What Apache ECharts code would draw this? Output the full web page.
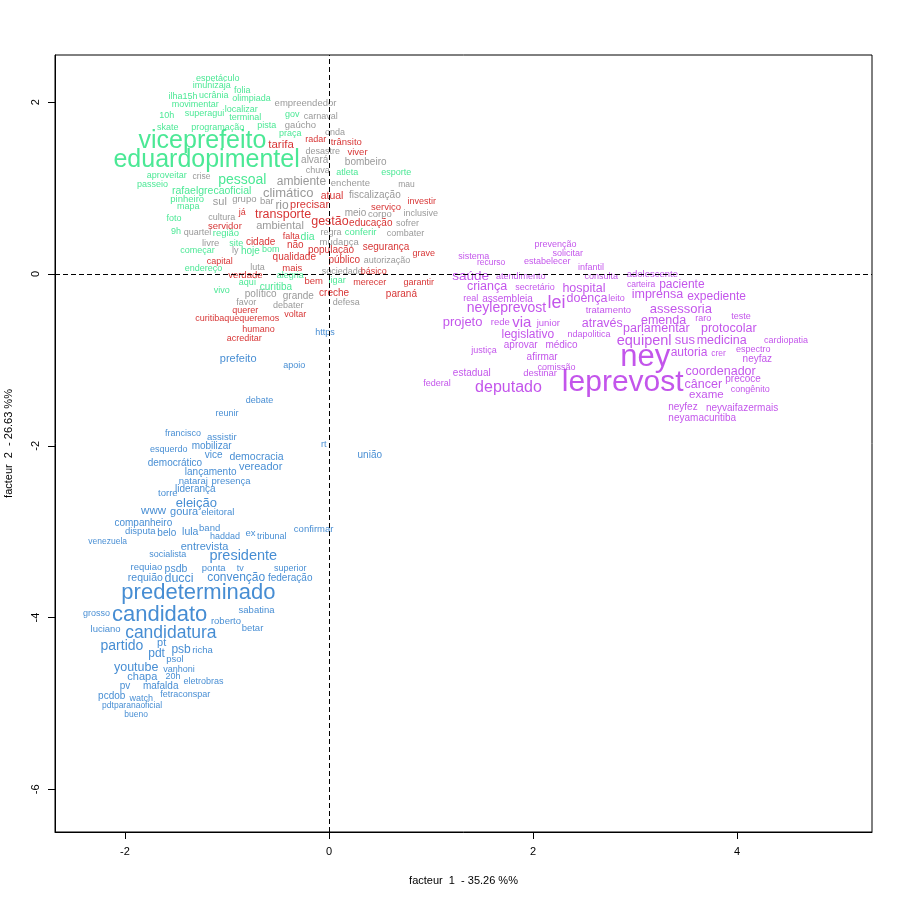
<!DOCTYPE html>
<html>
<head>
<meta charset="utf-8">
<script src="https://cdn.jsdelivr.net/npm/echarts@6/dist/echarts.min.js"></script>
<style>html,body{margin:0;padding:0;background:#fff}#c{width:900px;height:900px}</style>
</head>
<body>
<div id="c"></div>
<script>
// [word, facteur1, facteur2, cex]
const greenWords = [
 ["espetáculo",-1.09,2.28,0.9],["imunizaja",-1.15,2.19,0.9],["folia",-0.85,2.13,0.9],["ilha15h",-1.43,2.06,0.9],
 ["ucrânia",-1.13,2.08,0.9],["olimpiada",-0.76,2.04,0.9],["movimentar",-1.31,1.97,0.9],["localizar",-0.86,1.92,0.9],
 ["10h",-1.59,1.84,0.9],["superagui",-1.22,1.87,0.9],["terminal",-0.82,1.82,0.9],["skate",-1.58,1.71,0.9],
 ["programação",-1.09,1.71,0.9],["pista",-0.61,1.73,0.9],["gov",-0.36,1.86,0.9],["praça",-0.38,1.63,0.9],
 ["viceprefeito",-1.24,1.55,2.5],["eduardopimentel",-1.20,1.33,2.5],["atleta",0.18,1.18,0.9],["esporte",0.66,1.18,0.9],
 ["aproveitar",-1.59,1.15,0.9],["pessoal",-0.85,1.09,1.4],["passeio",-1.73,1.04,0.9],["rafaelgrecaoficial",-1.15,0.97,1.05],
 ["pinheiro",-1.39,0.87,0.95],["mapa",-1.38,0.78,0.9],["foto",-1.52,0.64,0.9],["9h",-1.50,0.50,0.9],
 ["região",-1.01,0.47,0.95],["site",-0.91,0.36,0.9],["dia",-0.21,0.43,1.05],["conferir",0.31,0.48,0.95],
 ["começar",-1.29,0.27,0.9],["hoje",-0.77,0.26,1.0],["bom",-0.57,0.28,0.9],["endereço",-1.23,0.06,0.9],
 ["alegria",-0.38,-0.02,0.9],["aqui",-0.80,-0.10,0.9],["curitiba",-0.52,-0.15,1.0],["ligar",0.08,-0.08,0.9],
 ["vivo",-1.05,-0.19,0.9]
];
const greyWords = [
 ["empreendedor",-0.23,1.99,0.95],["carnaval",-0.08,1.83,0.9],["gaúcho",-0.28,1.73,0.95],["onda",0.06,1.65,0.9],
 ["desastre",-0.06,1.42,0.9],["alvará",-0.14,1.32,1.0],["bombeiro",0.36,1.30,1.0],["chuva",-0.11,1.20,0.9],
 ["ambiente",-0.27,1.08,1.2],["enchente",0.21,1.05,0.95],["mau",0.76,1.04,0.85],["climático",-0.40,0.94,1.3],
 ["fiscalização",0.45,0.92,1.0],["crise",-1.25,1.13,0.85],["grupo",-0.83,0.87,0.95],["sul",-1.07,0.84,1.1],
 ["bar",-0.61,0.84,0.95],["rio",-0.46,0.80,1.2],["meio",0.26,0.71,1.0],["corpo",0.50,0.69,0.95],
 ["inclusive",0.90,0.70,0.9],["cultura",-1.05,0.66,0.9],["sofrer",0.77,0.59,0.9],["ambiental",-0.48,0.56,1.1],
 ["quartel",-1.29,0.48,0.9],["regra",0.02,0.48,0.9],["combater",0.75,0.47,0.9],["livre",-1.16,0.36,0.95],
 ["mudança",0.10,0.37,0.95],["ly",-0.92,0.27,0.9],["autorização",0.57,0.16,0.9],["luta",-0.70,0.07,0.9],
 ["sociedade",0.13,0.03,0.9],["político",-0.67,-0.24,1.0],["grande",-0.30,-0.26,1.0],["favor",-0.81,-0.33,0.9],
 ["defesa",0.17,-0.33,0.9],["debater",-0.40,-0.37,0.9]
];
const redWords = [
 ["radar",-0.13,1.56,0.9],["trânsito",0.17,1.53,0.95],["tarifa",-0.47,1.50,1.15],["viver",0.28,1.41,0.95],
 ["atual",0.03,0.91,1.05],["precisar",-0.19,0.80,1.1],["serviço",0.56,0.78,0.95],["investir",0.91,0.84,0.9],
 ["já",-0.85,0.71,0.9],["transporte",-0.45,0.69,1.25],["gestão",0.01,0.61,1.25],["educação",0.41,0.59,1.0],
 ["servidor",-1.02,0.55,0.95],["cidade",-0.67,0.37,1.0],["falta",-0.37,0.44,0.9],["não",-0.33,0.33,1.0],
 ["população",0.02,0.28,1.0],["segurança",0.56,0.31,1.0],["grave",0.93,0.24,0.9],["qualidade",-0.34,0.19,1.0],
 ["público",0.15,0.16,1.0],["capital",-1.07,0.15,0.9],["mais",-0.36,0.07,0.95],["básico",0.44,0.03,0.9],
 ["verdade",-0.82,-0.02,0.95],["bem",-0.15,-0.09,0.95],["merecer",0.40,-0.10,0.9],["garantir",0.88,-0.10,0.9],
 ["paraná",0.71,-0.24,1.0],["creche",0.05,-0.22,1.0],["querer",-0.82,-0.43,0.9],["voltar",-0.33,-0.47,0.9],
 ["curitibaquequeremos",-0.90,-0.52,0.9],["humano",-0.69,-0.65,0.9],["acreditar",-0.83,-0.75,0.9]
];
const purpleWords = [
 ["prevenção",2.22,0.34,0.9],["solicitar",2.34,0.24,0.9],["sistema",1.42,0.20,0.9],["recurso",1.59,0.13,0.85],
 ["estabelecer",2.14,0.15,0.9],["infantil",2.57,0.07,0.9],["saúde",1.39,-0.03,1.35],["atendimento",1.88,-0.03,0.9],
 ["consulta",2.67,-0.03,0.9],["adolescente",3.17,0.00,0.95],["criança",1.55,-0.15,1.25],["secretário",2.02,-0.16,0.9],
 ["hospital",2.50,-0.17,1.25],["carteira",3.06,-0.13,0.85],["paciente",3.46,-0.12,1.2],["real",1.39,-0.28,0.9],
 ["assembleia",1.75,-0.29,1.0],["lei",2.23,-0.34,1.8],["doença",2.53,-0.29,1.25],["leito",2.82,-0.28,0.9],
 ["imprensa",3.22,-0.24,1.25],["expediente",3.80,-0.27,1.2],["neyleprevost",1.74,-0.40,1.4],["tratamento",2.74,-0.42,0.95],
 ["assessoria",3.45,-0.41,1.3],["projeto",1.31,-0.56,1.3],["rede",1.68,-0.56,0.95],["via",1.89,-0.57,1.5],
 ["junior",2.15,-0.58,0.95],["através",2.68,-0.58,1.25],["emenda",3.28,-0.54,1.25],["raro",3.67,-0.52,0.9],
 ["teste",4.04,-0.50,0.9],["parlamentar",3.21,-0.64,1.25],["protocolar",3.92,-0.63,1.25],["legislativo",1.95,-0.71,1.2],
 ["ndapolitica",2.55,-0.70,0.9],["equipenl",3.09,-0.78,1.45],["sus",3.49,-0.77,1.3],["medicina",3.85,-0.78,1.25],
 ["cardiopatia",4.48,-0.78,0.9],["justiça",1.52,-0.89,0.9],["aprovar",1.88,-0.83,1.0],["médico",2.28,-0.83,1.0],
 ["autoria",3.53,-0.92,1.2],["crer",3.82,-0.93,0.85],["espectro",4.16,-0.88,0.9],["neyfaz",4.20,-0.99,1.0],
 ["ney",3.10,-0.97,3.1],["afirmar",2.09,-0.97,1.0],["comissão",2.23,-1.09,0.9],["coordenador",3.84,-1.14,1.25],
 ["precoce",4.06,-1.22,1.0],["estadual",1.40,-1.16,1.0],["destinar",2.07,-1.16,0.95],["leprevost",2.88,-1.27,3.0],
 ["federal",1.06,-1.27,0.9],["deputado",1.76,-1.32,1.6],["câncer",3.67,-1.29,1.25],["congênito",4.13,-1.35,0.9],
 ["exame",3.70,-1.41,1.15],["neyfez",3.47,-1.55,1.0],["neyvaifazermais",4.05,-1.56,1.0],["neyamacuritiba",3.66,-1.68,1.0]
];
const blueWords = [
 ["https",-0.04,-0.68,0.9],["prefeito",-0.89,-0.99,1.1],["apoio",-0.34,-1.07,0.9],["debate",-0.68,-1.47,0.9],
 ["reunir",-1.00,-1.62,0.9],["francisco",-1.43,-1.86,0.9],["assistir",-1.05,-1.90,0.95],["rt",-0.05,-1.98,0.9],
 ["união",0.40,-2.11,1.0],["esquerdo",-1.57,-2.04,0.9],["mobilizar",-1.15,-2.01,1.0],["vice",-1.13,-2.11,1.0],
 ["democracia",-0.71,-2.13,1.05],["democrático",-1.51,-2.20,1.0],["lançamento",-1.16,-2.31,1.0],["vereador",-0.67,-2.25,1.1],
 ["nataraj",-1.33,-2.41,0.95],["presença",-0.96,-2.41,0.95],["torre",-1.58,-2.55,0.95],["liderança",-1.31,-2.51,1.0],
 ["eleição",-1.30,-2.67,1.3],["www",-1.72,-2.76,1.15],["goura",-1.42,-2.77,1.1],["eleitoral",-1.09,-2.78,0.95],
 ["companheiro",-1.82,-2.90,1.0],["disputa",-1.85,-3.00,0.95],["belo",-1.59,-3.02,1.0],["lula",-1.36,-3.00,1.05],
 ["band",-1.17,-2.96,0.95],["haddad",-1.02,-3.06,0.9],["ex",-0.77,-3.02,0.95],["tribunal",-0.56,-3.06,0.9],
 ["confirmar",-0.15,-2.97,0.95],["venezuela",-2.17,-3.12,0.85],["entrevista",-1.22,-3.18,1.1],["socialista",-1.58,-3.27,0.9],
 ["presidente",-0.84,-3.28,1.45],["requiao",-1.79,-3.42,0.95],["psdb",-1.50,-3.43,1.05],["ponta",-1.13,-3.43,0.95],
 ["tv",-0.87,-3.43,0.9],["superior",-0.38,-3.43,0.9],["requião",-1.80,-3.54,1.05],["ducci",-1.47,-3.54,1.25],
 ["convenção",-0.91,-3.53,1.2],["federação",-0.38,-3.54,1.0],["predeterminado",-1.28,-3.71,2.2],["grosso",-2.28,-3.95,0.9],
 ["candidato",-1.66,-3.97,2.2],["sabatina",-0.71,-3.92,0.95],["roberto",-1.01,-4.04,0.95],["luciano",-2.19,-4.14,0.95],
 ["candidatura",-1.55,-4.18,1.75],["betar",-0.75,-4.12,0.95],["partido",-2.03,-4.33,1.4],["pt",-1.64,-4.30,1.1],
 ["psb",-1.45,-4.37,1.2],["richa",-1.24,-4.38,0.95],["pdt",-1.69,-4.42,1.2],["psol",-1.51,-4.49,0.95],
 ["youtube",-1.89,-4.58,1.25],["vanhoni",-1.47,-4.61,0.9],["chapa",-1.83,-4.69,1.1],["20h",-1.53,-4.69,0.9],
 ["eletrobras",-1.23,-4.75,0.9],["pv",-2.00,-4.80,1.0],["mafalda",-1.65,-4.80,1.0],["pcdob",-2.13,-4.92,1.0],
 ["watch",-1.84,-4.94,0.9],["fetraconspar",-1.41,-4.90,0.9],["pdtparanaoficial",-1.93,-5.03,0.85],["bueno",-1.89,-5.13,0.85]
];
const xTicks = [-2, 0, 2, 4];
const yTicks = [-6, -4, -2, 0, 2];
const xTitle = "facteur  1  - 35.26 %%";
const yTitle = "facteur  2  - 26.63 %%";

const FONT = "'Liberation Sans', Arial, Helvetica, sans-serif";
function wordSeries(words, color, extra) {
  return Object.assign({
    type: 'scatter',
    symbolSize: 1,
    itemStyle: { color: 'rgba(0,0,0,0)' },
    silent: true,
    label: { show: true, position: 'inside', formatter: '{b}', color: color, fontFamily: FONT },
    labelLayout: { hideOverlap: false },
    data: words.map(w => ({ name: w[0], value: [w[1], w[2]], label: { fontSize: w[3] * 10 } }))
  }, extra || {});
}
const chart = echarts.init(document.getElementById('c'), null, { renderer: 'canvas' });
chart.setOption({
  animation: false,
  backgroundColor: '#fff',
  grid: { left: 55, right: 28, top: 55, bottom: 68, containLabel: false, outerBoundsMode: 'none',
          show: true, borderColor: '#000', borderWidth: 1, backgroundColor: 'transparent' },
  xAxis: {
    type: 'value', min: -2.686, max: 5.324,
    name: xTitle, nameLocation: 'middle', nameGap: 43,
    nameTextStyle: { color: '#000', fontSize: 11, fontFamily: FONT },
    axisLine: { show: true, onZero: false, lineStyle: { color: '#000' } },
    axisTick: { show: true, length: 7, lineStyle: { color: '#000' }, customValues: xTicks },
    axisLabel: { color: '#000', fontSize: 11, fontFamily: FONT, margin: 14, customValues: xTicks, formatter: v => String(v) },
    splitLine: { show: false }
  },
  yAxis: {
    type: 'value', min: -6.496, max: 2.549,
    name: yTitle, nameLocation: 'middle', nameGap: 41, nameRotate: 90,
    nameTextStyle: { color: '#000', fontSize: 11, fontFamily: FONT },
    axisLine: { show: true, onZero: false, lineStyle: { color: '#000' } },
    axisTick: { show: true, length: 7, lineStyle: { color: '#000' }, customValues: yTicks },
    axisLabel: { color: '#000', fontSize: 11, fontFamily: FONT, margin: 14, rotate: 90, customValues: yTicks, formatter: v => String(v) },
    splitLine: { show: false }
  },
  series: [
    wordSeries(greyWords, '#7f7f7f', {
      markLine: { silent: true, symbol: 'none', label: { show: false },
        lineStyle: { type: [5, 3], color: '#000', width: 1 },
        data: [{ xAxis: 0 }, { yAxis: 0 }] }
    }),
    wordSeries(redWords, '#cd0000'),
    wordSeries(greenWords, '#1ee27a'),
    wordSeries(purpleWords, '#b42ae6'),
    wordSeries(blueWords, '#1870c8')
  ]
});
</script>
</body>
</html>
